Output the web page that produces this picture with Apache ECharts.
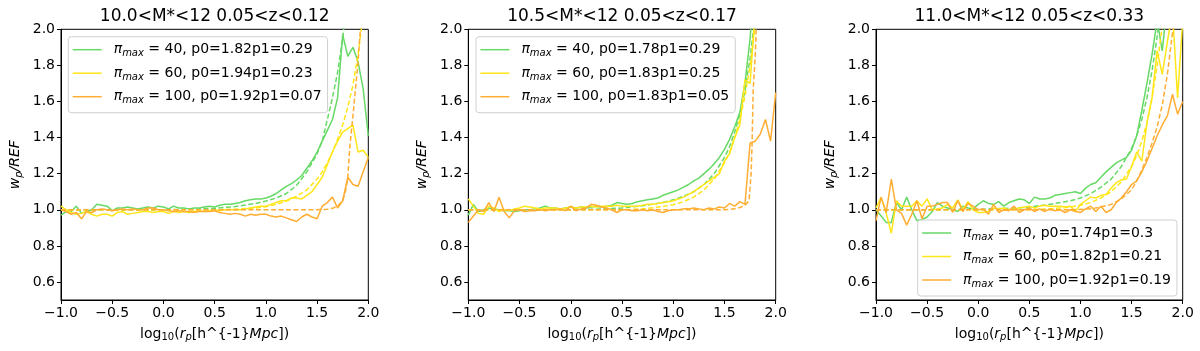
<!DOCTYPE html>
<html>
<head>
<meta charset="utf-8">
<script src="https://cdn.jsdelivr.net/npm/echarts@6/dist/echarts.min.js"></script>
<style>
  html, body { margin: 0; padding: 0; background: #fff; }
  #chart { width: 1200px; height: 351px; }
</style>
</head>
<body>
<div id="chart"></div>
<script>
// log10(rp) bins of the measured ratios
const rp = [
  -1.00, -0.95, -0.90, -0.85, -0.80, -0.75, -0.70, -0.65, -0.60, -0.55,
  -0.50, -0.45, -0.40, -0.35, -0.30, -0.25, -0.20, -0.15, -0.10, -0.05,
   0.00,  0.05,  0.10,  0.15,  0.20,  0.25,  0.30,  0.35,  0.40,  0.45,
   0.50,  0.55,  0.60,  0.65,  0.70,  0.75,  0.80,  0.85,  0.90,  0.95,
   1.00,  1.05,  1.10,  1.15,  1.20,  1.25,  1.30,  1.35,  1.40,  1.45,
   1.50,  1.55,  1.60,  1.65,  1.70,  1.75,  1.80,  1.85,  1.90,  1.95,
   2.00
];

// panel 1 : 10.0<M*<12 0.05<z<0.12
const p1Green = [
  0.97, 0.99, 0.99, 1.02, 0.98, 0.99, 1.00, 1.03, 1.025, 1.02,
  0.995, 1.01, 1.01, 1.015, 1.01, 1.005, 1.01, 1.015, 1.01, 1.02,
  1.015, 1.005, 1.02, 1.01, 1.01, 1.005, 1.01, 1.01, 1.015, 1.02,
  1.015, 1.025, 1.03, 1.03, 1.035, 1.04, 1.05, 1.055, 1.06, 1.06,
  1.065, 1.075, 1.09, 1.11, 1.13, 1.145, 1.165, 1.19, 1.23, 1.27,
  1.32, 1.38, 1.44, 1.50, 1.62, 1.97, 1.85, 1.90, 1.82, 1.67,
  1.41
];
const p1Yellow = [
  1.02, 1.00, 0.985, 0.975, 0.98, 0.99, 0.975, 0.965, 0.975, 0.975,
  0.965, 0.985, 0.99, 0.975, 0.98, 0.985, 0.99, 0.99, 0.985, 0.99,
  0.99, 0.98, 0.99, 0.985, 0.99, 0.985, 0.99, 0.995, 0.99, 0.995,
  1.00, 0.995, 1.00, 1.00, 1.00, 1.00, 1.005, 1.01, 1.015, 1.02,
  1.02, 1.03, 1.04, 1.05, 1.05, 1.065, 1.065, 1.06, 1.08, 1.10,
  1.14, 1.18, 1.25, 1.32, 1.38, 1.43, 1.45, 1.47, 1.32, 1.33,
  1.29
];
const p1Orange = [
  1.00, 0.99, 0.975, 0.985, 0.95, 0.99, 0.985, 1.00, 1.005, 1.00,
  0.995, 1.00, 1.005, 1.00, 1.005, 1.00, 1.00, 1.01, 1.01, 1.00,
  1.00, 0.995, 0.99, 0.995, 0.99, 0.99, 0.985, 0.99, 0.99, 0.99,
  0.995, 0.985, 0.98, 0.975, 0.98, 0.975, 0.965, 0.975, 0.97, 0.975,
  0.975, 0.965, 0.96, 0.965, 0.955, 0.945, 0.935, 0.96, 0.975, 0.96,
  0.95, 1.02, 1.04, 1.07, 1.01, 1.05, 1.18, 1.14, 1.13, 1.21,
  1.29
];
const p1GreenFit = [[-1, 1.0], [0.0, 1.0], [0.3, 1.003], [0.5, 1.008], [0.7, 1.018], [0.9, 1.035], [1.0, 1.048], [1.1, 1.065], [1.2, 1.09], [1.3, 1.135], [1.4, 1.21], [1.5, 1.31], [1.55, 1.38], [1.6, 1.50], [1.65, 1.62], [1.7, 1.76], [1.75, 1.95], [1.8, 2.2]];
const p1YellowFit = [[-1, 1.0], [0.5, 1.0], [0.7, 1.003], [0.9, 1.01], [1.0, 1.017], [1.1, 1.03], [1.2, 1.048], [1.3, 1.075], [1.4, 1.11], [1.5, 1.17], [1.55, 1.21], [1.6, 1.26], [1.65, 1.32], [1.7, 1.39], [1.75, 1.47], [1.8, 1.57], [1.85, 1.69], [1.9, 1.86], [1.95, 2.08]];
const p1OrangeFit = [[-1, 1.0], [1.5, 1.0], [1.6, 1.003], [1.65, 1.008], [1.7, 1.02], [1.75, 1.05], [1.78, 1.11], [1.8, 1.18], [1.82, 1.35], [1.85, 1.52], [1.88, 1.7], [1.9, 1.82], [1.92, 1.98], [1.94, 2.15]];

// panel 2 : 10.5<M*<12 0.05<z<0.17
const p2Green = [
  0.97, 1.03, 0.99, 1.00, 1.01, 1.005, 1.00, 0.995, 0.995, 0.99,
  0.995, 1.00, 1.00, 1.005, 1.01, 1.02, 1.01, 1.01, 1.005, 1.01,
  1.015, 1.01, 1.015, 1.01, 1.015, 1.02, 1.015, 1.02, 1.025, 1.04,
  1.035, 1.03, 1.035, 1.045, 1.05, 1.055, 1.06, 1.065, 1.08, 1.09,
  1.10, 1.11, 1.125, 1.14, 1.16, 1.175, 1.20, 1.225, 1.255, 1.29,
  1.335, 1.39, 1.46, 1.54, 1.70, 1.95, 2.30
];
const p2Yellow = [
  1.06, 1.02, 0.98, 0.975, 1.02, 1.01, 0.99, 1.00, 0.995, 1.005,
  1.01, 1.02, 1.015, 1.01, 1.005, 1.01, 1.01, 1.01, 1.005, 1.01,
  1.015, 1.01, 1.015, 1.015, 1.02, 1.015, 1.02, 1.02, 1.02, 1.025,
  1.02, 1.02, 1.02, 1.02, 1.025, 1.03, 1.03, 1.035, 1.04, 1.045,
  1.05, 1.06, 1.07, 1.085, 1.10, 1.12, 1.14, 1.16, 1.18, 1.20,
  1.27, 1.31, 1.40, 1.47, 1.72, 1.70, 2.10
];
const p2Orange = [
  0.93, 0.965, 1.00, 0.99, 1.04, 0.99, 1.07, 0.99, 0.955, 0.995,
  1.00, 0.99, 0.995, 0.995, 1.00, 0.995, 1.00, 1.00, 1.005, 0.995,
  1.02, 0.995, 1.005, 1.01, 1.03, 1.025, 1.015, 1.01, 1.00, 0.985,
  1.00, 1.00, 0.995, 0.995, 1.00, 0.995, 1.00, 0.99, 0.985, 0.995,
  1.00, 1.00, 1.005, 1.005, 1.01, 1.005, 1.00, 1.01, 1.005, 1.015,
  1.01, 1.035, 1.02, 1.045, 1.03, 1.37, 1.38, 1.42, 1.50, 1.38,
  1.65
];
const p2GreenFit = [[-1, 1.0], [0.0, 1.0], [0.3, 1.004], [0.5, 1.01], [0.7, 1.022], [0.9, 1.04], [1.0, 1.055], [1.1, 1.075], [1.2, 1.10], [1.3, 1.14], [1.4, 1.20], [1.5, 1.29], [1.55, 1.35], [1.6, 1.43], [1.65, 1.53], [1.7, 1.66], [1.75, 1.84], [1.8, 2.08]];
const p2YellowFit = [[-1, 1.0], [0.5, 1.0], [0.7, 1.005], [0.9, 1.018], [1.0, 1.028], [1.1, 1.045], [1.2, 1.07], [1.3, 1.11], [1.4, 1.17], [1.5, 1.26], [1.55, 1.32], [1.6, 1.40], [1.65, 1.50], [1.7, 1.63], [1.75, 1.80], [1.8, 2.02]];
const p2OrangeFit = [[-1, 1.0], [1.5, 1.0], [1.6, 1.005], [1.65, 1.012], [1.7, 1.025], [1.74, 1.05], [1.76, 1.2], [1.77, 1.38], [1.78, 1.66], [1.8, 1.85], [1.81, 2.0], [1.83, 2.2]];

// panel 3 : 11.0<M*<12 0.05<z<0.33
const p3Green = [
  1.00, 0.965, 0.93, 0.93, 1.04, 1.00, 1.07, 1.00, 0.94, 0.945,
  0.96, 0.99, 1.04, 1.02, 1.01, 1.00, 0.99, 1.02, 1.01, 1.005,
  1.03, 1.05, 1.035, 1.03, 1.045, 1.02, 1.04, 1.05, 1.06, 1.055,
  1.035, 1.07, 1.06, 1.06, 1.065, 1.08, 1.085, 1.09, 1.095, 1.10,
  1.09, 1.12, 1.14, 1.15, 1.18, 1.21, 1.235, 1.26, 1.275, 1.29,
  1.33, 1.41, 1.55, 1.70, 1.86, 2.05, 1.88, 2.15
];
const p3Yellow = [
  1.01, 1.07, 0.98, 0.87, 1.05, 1.02, 1.02, 1.02, 1.05, 1.02,
  1.06, 1.00, 1.005, 1.01, 1.03, 1.01, 1.055, 1.00, 1.045, 1.00,
  0.985, 0.985, 0.99, 1.01, 1.005, 1.01, 1.00, 1.005, 1.01, 1.015,
  1.02, 1.01, 1.02, 1.025, 1.02, 1.02, 1.02, 1.015, 1.02, 0.99,
  1.03, 1.05, 1.07, 1.065, 1.08, 1.085, 1.12, 1.15, 1.165, 1.17,
  1.24, 1.32, 1.27, 1.48, 1.62, 1.88, 1.75, 1.93, 2.10, 1.62,
  2.05
];
const p3Orange = [
  0.94, 1.07, 0.985, 1.17, 1.00, 0.98, 0.915, 0.975, 1.05, 0.95,
  1.02, 1.02, 1.03, 1.04, 1.04, 0.985, 1.05, 0.99, 1.035, 1.02,
  1.00, 1.005, 0.975, 1.03, 0.985, 1.00, 0.995, 1.02, 0.985, 1.00,
  1.01, 0.99, 1.005, 0.99, 1.005, 0.995, 1.00, 0.985, 1.00, 0.99,
  0.985, 1.005, 1.02, 0.99, 1.02, 0.985, 1.00, 1.04, 1.065, 1.10,
  1.14, 1.16, 1.21, 1.27, 1.34, 1.41, 1.47, 1.52, 1.64, 1.53,
  1.60
];
const p3GreenFit = [[-1, 1.0], [-0.5, 1.0], [0.0, 1.002], [0.3, 1.008], [0.5, 1.015], [0.7, 1.03], [0.9, 1.05], [1.0, 1.065], [1.1, 1.09], [1.2, 1.125], [1.3, 1.17], [1.4, 1.24], [1.5, 1.34], [1.55, 1.41], [1.6, 1.50], [1.65, 1.62], [1.7, 1.77], [1.75, 1.96], [1.8, 2.2]];
const p3YellowFit = [[-1, 1.0], [0.5, 1.0], [0.7, 1.005], [0.9, 1.015], [1.0, 1.025], [1.1, 1.04], [1.2, 1.065], [1.3, 1.10], [1.4, 1.155], [1.5, 1.24], [1.55, 1.30], [1.6, 1.38], [1.65, 1.48], [1.7, 1.62], [1.75, 1.80], [1.8, 2.02]];
const p3OrangeFit = [[-1, 1.0], [0.9, 1.0], [1.1, 1.005], [1.2, 1.015], [1.3, 1.03], [1.4, 1.06], [1.5, 1.11], [1.55, 1.16], [1.6, 1.22], [1.65, 1.29], [1.7, 1.37], [1.75, 1.46], [1.8, 1.58], [1.85, 1.75], [1.9, 1.98], [1.95, 2.25]];

const titles = ['10.0<M*<12 0.05<z<0.12', '10.5<M*<12 0.05<z<0.17', '11.0<M*<12 0.05<z<0.33'];
const piMax = ['40', '60', '100'];
const p0Values = [['1.82', '1.94', '1.92'], ['1.78', '1.83', '1.83'], ['1.74', '1.82', '1.92']];
const p1Values = [['0.29', '0.23', '0.07'], ['0.29', '0.25', '0.05'], ['0.3', '0.21', '0.19']];
const yTicks = [0.6, 0.8, 1.0, 1.2, 1.4, 1.6, 1.8, 2.0];

const FONT = 'DejaVu Sans';
const colors = ['#66d966', '#ffe619', '#ffad33'];
const panels = [
  { left: 61, width: 307.3, solid: [p1Green, p1Yellow, p1Orange], fits: [p1GreenFit, p1YellowFit, p1OrangeFit], legend: { left: 68.3, top: 36.7 } },
  { left: 468.3, width: 307.4, solid: [p2Green, p2Yellow, p2Orange], fits: [p2GreenFit, p2YellowFit, p2OrangeFit], legend: { left: 476, top: 36.7 } },
  { left: 876, width: 306.7, solid: [p3Green, p3Yellow, p3Orange], fits: [p3GreenFit, p3YellowFit, p3OrangeFit], legend: { left: 917.7, top: 220 } }
];
const TOP = 29.3, HEIGHT = 270.7;

const fmtTick = (v) => (v < 0 ? '\u2212' : '') + Math.abs(v).toFixed(1);

const legendRich = {
  sp: { width: 7, fontSize: 14, lineHeight: 18 },
  pi: { fontFamily: FONT, fontStyle: 'italic', fontSize: 14, lineHeight: 18, color: '#000' },
  sub: { fontFamily: FONT, fontStyle: 'italic', fontSize: 10, lineHeight: 8, verticalAlign: 'bottom', color: '#000' },
  t: { fontFamily: FONT, fontSize: 14, lineHeight: 18, color: '#000' }
};

const chart = echarts.init(document.getElementById('chart'));
const grid = [], xAxis = [], yAxis = [], series = [], legend = [], graphic = [];
const labels = {};

panels.forEach((p, k) => {
  grid.push({ left: p.left, top: TOP, width: p.width, height: HEIGHT, show: true, borderColor: '#000', borderWidth: 1, containLabel: false });
  xAxis.push({
    type: 'value', gridIndex: k, min: -1, max: 2, interval: 0.5,
    axisLine: { show: true, onZero: false, lineStyle: { color: '#000', width: 1 } },
    axisTick: { show: true, length: 4, lineStyle: { color: '#000' } },
    axisLabel: { formatter: fmtTick, fontFamily: FONT, fontSize: 14, color: '#000', margin: 6 },
    splitLine: { show: false },
    // the literal closing brace of {-1} sits outside the rich token
    name: '{n|log}{s|10}{n|(}{i|r}{si|p}{n|[h^{-1}}{i|Mpc}{n|])}',
    nameLocation: 'middle', nameGap: 24,
    nameTextStyle: {
      fontFamily: FONT, fontSize: 14, lineHeight: 18, color: '#000',
      rich: {
        n: { fontFamily: FONT, fontSize: 14, lineHeight: 18, color: '#000' },
        s: { fontFamily: FONT, fontSize: 10, lineHeight: 8, verticalAlign: 'bottom', color: '#000' },
        i: { fontFamily: FONT, fontStyle: 'italic', fontSize: 14, lineHeight: 18, color: '#000' },
        si: { fontFamily: FONT, fontStyle: 'italic', fontSize: 10, lineHeight: 8, verticalAlign: 'bottom', color: '#000' }
      }
    }
  });
  yAxis.push({
    type: 'value', gridIndex: k, min: 0.5, max: 2.0,
    axisLine: { show: true, onZero: false, lineStyle: { color: '#000', width: 1 } },
    axisTick: { show: true, length: 4, customValues: yTicks, lineStyle: { color: '#000' } },
    axisLabel: { customValues: yTicks, formatter: (v) => v.toFixed(1), fontFamily: FONT, fontSize: 14, color: '#000', margin: 6 },
    splitLine: { show: false },
    name: '{i|w}{si|p}{i|/REF}',
    nameLocation: 'middle', nameGap: 37,
    nameTextStyle: {
      rich: {
        i: { fontFamily: FONT, fontStyle: 'italic', fontSize: 14, lineHeight: 18, color: '#000' },
        si: { fontFamily: FONT, fontStyle: 'italic', fontSize: 10, lineHeight: 8, verticalAlign: 'bottom', color: '#000' }
      }
    }
  });

  const names = [];
  p.solid.forEach((vals, j) => {
    const name = 'panel' + k + '_pi' + piMax[j];
    names.push(name);
    labels[name] = '{sp| }{pi|\u03c0}{sub|max}{t| = ' + piMax[j] + ', p0=' + p0Values[k][j] + 'p1=' + p1Values[k][j] + '}';
    series.push({
      name: name, type: 'line', xAxisIndex: k, yAxisIndex: k,
      data: vals.map((v, i) => [rp[i], v]),
      symbol: 'none', showSymbol: false, clip: true,
      color: colors[j],
      lineStyle: { color: colors[j], width: 1.5 },
      z: 2 + j
    });
    series.push({
      name: 'fit_' + name, type: 'line', xAxisIndex: k, yAxisIndex: k,
      data: p.fits[j],
      symbol: 'none', showSymbol: false, clip: true,
      color: colors[j],
      lineStyle: { color: colors[j], width: 1.5, type: [5, 2.5] },
      z: 2 + j
    });
  });

  legend.push({
    data: names,
    orient: 'vertical',
    left: p.legend.left, top: p.legend.top,
    icon: 'rect', itemWidth: 29, itemHeight: 1.5, itemGap: 7.5,
    padding: [6, 6, 7, 4.4],
    backgroundColor: 'rgba(255,255,255,0.8)',
    borderColor: '#d0d0d0', borderWidth: 1, borderRadius: 3,
    selectedMode: false,
    formatter: (n) => labels[n],
    textStyle: { fontFamily: FONT, fontSize: 14, color: '#000', rich: legendRich }
  });

  graphic.push({
    type: 'text', x: p.left + p.width / 2, y: 16.7,
    style: { text: titles[k], fontFamily: FONT, fontSize: 17, fill: '#000', align: 'center', verticalAlign: 'middle' }
  });
});

chart.setOption({
  animation: false,
  backgroundColor: '#fff',
  grid: grid,
  xAxis: xAxis,
  yAxis: yAxis,
  legend: legend,
  graphic: graphic,
  series: series
});
</script>
</body>
</html>
